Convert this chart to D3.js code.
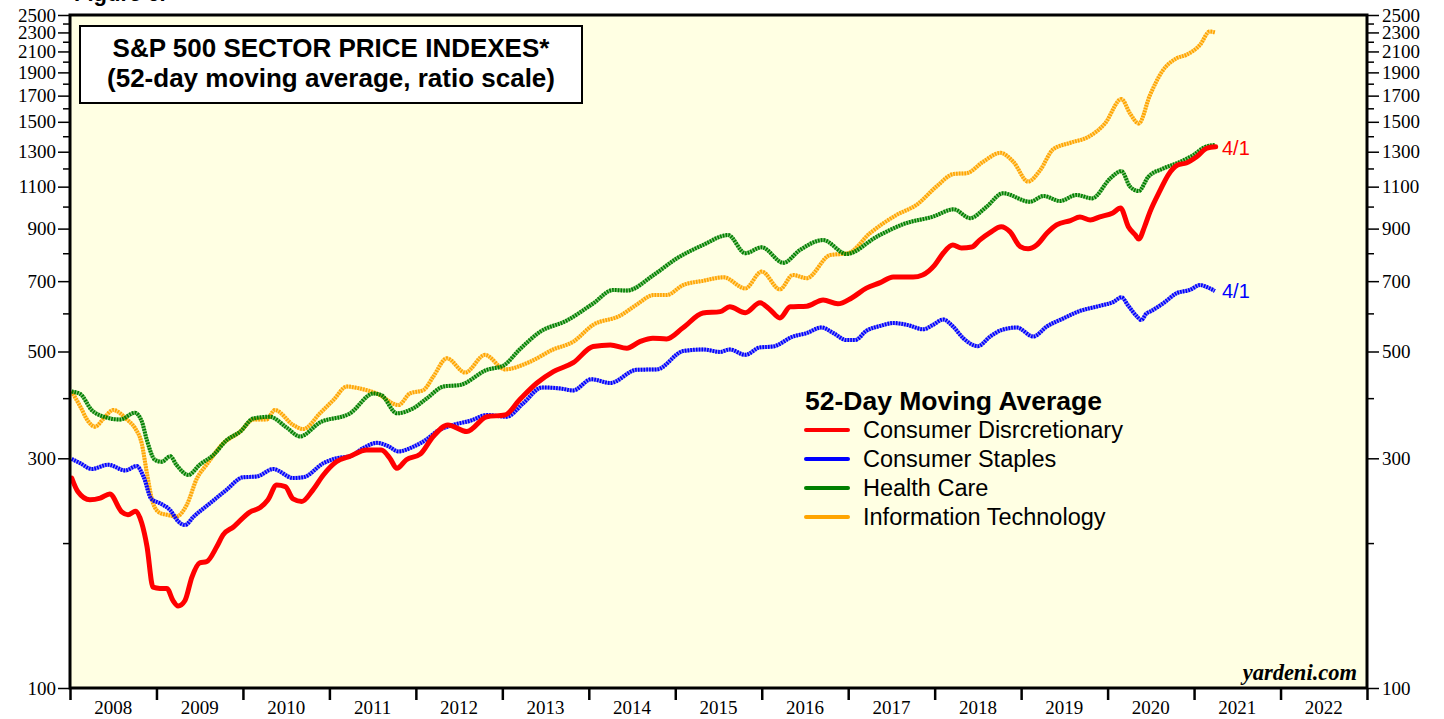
<!DOCTYPE html>
<html><head><meta charset="utf-8">
<script src="https://cdn.jsdelivr.net/npm/d3@7"></script>
<style>body{margin:0;background:#fff}svg{display:block}</style>
</head><body>
<svg id="chart" width="1444" height="719"></svg>
<script>
// ---- data ----
const cdYears = [2008.02,2008.09,2008.23,2008.35,2008.46,2008.60,2008.67,2008.76,2008.83,2008.89,2008.96,2009.04,2009.12,2009.19,2009.25,2009.33,2009.41,2009.50,2009.58,2009.70,2009.77,2009.89,2010.08,2010.20,2010.29,2010.39,2010.49,2010.58,2010.68,2010.81,2010.93,2011.08,2011.24,2011.43,2011.60,2011.70,2011.78,2011.89,2012.05,2012.20,2012.37,2012.59,2012.82,2013.03,2013.20,2013.40,2013.59,2013.82,2014.05,2014.25,2014.44,2014.59,2014.74,2014.90,2015.09,2015.32,2015.52,2015.63,2015.81,2015.98,2016.10,2016.21,2016.33,2016.52,2016.71,2016.88,2017.04,2017.21,2017.37,2017.52,2017.75,2017.86,2018.00,2018.10,2018.21,2018.31,2018.43,2018.52,2018.64,2018.77,2018.87,2018.99,2019.08,2019.18,2019.30,2019.41,2019.57,2019.68,2019.80,2019.91,2020.06,2020.15,2020.24,2020.32,2020.36,2020.43,2020.49,2020.61,2020.70,2020.81,2020.91,2021.03,2021.15,2021.25];
const cdValues = [273,256,246,248,253,232,229,233,220,197,162,161,161,152,148,152,170,182,183,197,208,216,232,237,246,264,262,247,244,258,277,295,303,312,312,300,286,298,306,333,352,341,366,369,397,430,454,474,512,516,508,524,533,531,560,601,605,619,602,631,610,587,619,621,640,628,646,677,695,714,714,721,756,801,832,820,824,852,883,908,887,826,817,832,881,916,935,951,938,952,970,993,908,873,856,911,975,1083,1163,1220,1232,1269,1323,1331];

const csYears = [2008.02,2008.12,2008.25,2008.44,2008.64,2008.77,2008.85,2008.94,2009.04,2009.16,2009.25,2009.33,2009.43,2009.62,2009.81,2010.00,2010.16,2010.35,2010.58,2010.70,2010.93,2011.08,2011.24,2011.39,2011.55,2011.68,2011.80,2011.97,2012.13,2012.24,2012.43,2012.63,2012.82,2013.05,2013.24,2013.46,2013.67,2013.82,2014.03,2014.25,2014.55,2014.79,2015.09,2015.32,2015.52,2015.63,2015.81,2015.98,2016.13,2016.36,2016.52,2016.69,2016.83,2016.98,2017.08,2017.21,2017.37,2017.52,2017.68,2017.87,2017.98,2018.10,2018.21,2018.33,2018.50,2018.64,2018.77,2018.95,2019.14,2019.30,2019.49,2019.68,2019.91,2020.07,2020.16,2020.24,2020.34,2020.39,2020.45,2020.49,2020.64,2020.80,2020.95,2021.07,2021.16,2021.24];
const csValues = [299,293,285,291,283,289,275,247,242,234,222,218,227,242,258,274,275,285,273,274,293,300,303,315,323,318,310,317,329,341,352,359,369,366,390,421,419,415,438,430,458,459,501,505,499,505,492,510,512,537,546,561,546,528,528,552,565,573,568,556,568,583,564,533,513,537,554,561,537,564,586,607,622,634,648,622,591,581,600,605,629,661,671,687,679,668];

const hcYears = [2008.02,2008.12,2008.25,2008.39,2008.58,2008.75,2008.83,2008.89,2008.98,2009.06,2009.16,2009.23,2009.37,2009.50,2009.66,2009.81,2009.97,2010.12,2010.31,2010.51,2010.66,2010.89,2011.24,2011.51,2011.60,2011.78,2011.97,2012.13,2012.32,2012.51,2012.82,2013.01,2013.20,2013.44,2013.74,2014.05,2014.28,2014.44,2014.75,2015.02,2015.32,2015.61,2015.81,2016.00,2016.25,2016.44,2016.71,2016.98,2017.33,2017.64,2017.98,2018.22,2018.41,2018.60,2018.79,2019.10,2019.26,2019.45,2019.64,2019.82,2020.03,2020.16,2020.26,2020.36,2020.47,2020.64,2020.84,2020.99,2021.13,2021.24];
const hcValues = [413,408,378,366,361,373,358,327,298,295,303,291,277,291,305,327,341,363,366,347,333,356,372,409,406,372,381,400,423,426,458,467,505,550,579,629,671,669,721,781,832,873,800,823,764,812,852,797,866,920,953,987,946,999,1066,1023,1052,1027,1057,1040,1144,1185,1100,1077,1153,1199,1239,1279,1331,1342];

const itYears = [2008.02,2008.12,2008.21,2008.29,2008.39,2008.50,2008.66,2008.75,2008.83,2008.89,2008.96,2009.04,2009.12,2009.23,2009.35,2009.47,2009.58,2009.77,2009.97,2010.12,2010.27,2010.37,2010.58,2010.70,2010.89,2011.05,2011.20,2011.35,2011.55,2011.80,2011.93,2012.09,2012.20,2012.36,2012.57,2012.80,2013.03,2013.32,2013.59,2013.82,2014.05,2014.36,2014.55,2014.75,2014.90,2015.09,2015.32,2015.56,2015.81,2016.00,2016.21,2016.36,2016.52,2016.79,2017.00,2017.25,2017.56,2017.79,2018.02,2018.22,2018.37,2018.56,2018.76,2018.91,2019.08,2019.22,2019.37,2019.57,2019.78,2019.97,2020.16,2020.26,2020.36,2020.49,2020.63,2020.80,2020.91,2021.07,2021.18,2021.24];
const itValues = [413,384,358,349,363,378,361,347,322,279,242,231,229,227,240,273,291,322,341,361,361,378,352,345,372,397,423,419,409,387,409,416,443,484,452,492,459,476,505,524,568,593,625,655,655,687,701,713,676,733,673,721,710,793,800,880,961,1008,1100,1169,1173,1239,1293,1239,1127,1190,1315,1357,1396,1488,1672,1560,1488,1704,1908,2034,2066,2168,2310,2300];

const seriesNames = ["Consumer Disrcretionary","Consumer Staples","Health Care","Information Technology"];
const seriesColors = ["#ff0000","#0000ff","#008000","#ffa500"];
const yLabelTicks = [100,300,500,700,900,1100,1300,1500,1700,1900,2100,2300,2500];
const yMinorTicks = [200,400,600,800,1000,1200,1400,1600,1800,2000,2200,2400];
const xYears = [2008,2009,2010,2011,2012,2013,2014,2015,2016,2017,2018,2019,2020,2021,2022];
const endLabel = "4/1";

// ---- layout ----
const L = 70, R = 1367, T = 15, B = 688;
const SERIF = "'Liberation Serif','Times New Roman',serif";
const SANS = "'Liberation Sans',Arial,sans-serif";
const svg = d3.select("#chart");
const x = d3.scaleLinear().domain([2008, 2023]).range([L, R]);
const y = d3.scaleLog().domain([100, 2500]).range([B, T]);

svg.append("rect").attr("x", L).attr("y", T).attr("width", R - L).attr("height", B - T).attr("fill", "#ffffe3");

const leftMajor = d3.axisLeft(y).tickValues(yLabelTicks).tickFormat(d3.format("d")).tickSize(12).tickPadding(2);
const leftMinor = d3.axisLeft(y).tickValues(yMinorTicks).tickFormat("").tickSize(7);
const rightMajor = d3.axisRight(y).tickValues(yLabelTicks).tickFormat(d3.format("d")).tickSize(12).tickPadding(3);
const rightMinor = d3.axisRight(y).tickValues(yMinorTicks).tickFormat("").tickSize(7);
function styleAxis(g){
  g.select(".domain").remove();
  g.selectAll(".tick line").attr("stroke","#000").attr("stroke-width",1.5);
  g.selectAll(".tick text").attr("font-family",SERIF).attr("font-size",19).attr("fill","#000");
}
svg.append("g").attr("transform",`translate(${L},0)`).call(leftMajor).call(styleAxis);
svg.append("g").attr("transform",`translate(${L},0)`).call(leftMinor).call(styleAxis);
svg.append("g").attr("transform",`translate(${R},0)`).call(rightMajor).call(styleAxis);
svg.append("g").attr("transform",`translate(${R},0)`).call(rightMinor).call(styleAxis);

const bottom = d3.axisBottom(x).tickValues(xYears.concat([2023])).tickFormat("").tickSize(12);
svg.append("g").attr("transform",`translate(0,${B})`).call(bottom).call(g=>{
  g.select(".domain").remove();
  g.selectAll(".tick line").attr("stroke","#000").attr("stroke-width",2.5);
});
svg.append("g").selectAll("text").data(xYears).join("text")
  .attr("x", d => x(d + 0.5)).attr("y", 714).attr("text-anchor","middle")
  .attr("font-family",SERIF).attr("font-size",19).text(d => d);

// lines
const line = d3.line().x(d => x(d[0])).y(d => y(d[1])).curve(d3.curveMonotoneX);
svg.append("clipPath").attr("id","plotclip").append("rect").attr("x",L).attr("y",T).attr("width",R-L).attr("height",B-T);
const series = [
  {years: cdYears, vals: cdValues},
  {years: csYears, vals: csValues},
  {years: hcYears, vals: hcValues},
  {years: itYears, vals: itValues}
];
const gl = svg.append("g").attr("clip-path","url(#plotclip)");
[3,2,1,0].forEach(i => {
  const s = series[i];
  const pts = s.years.map((yr, j) => [yr, s.vals[j]]);
  if (i === 0) {
    gl.append("path").attr("d", line(pts)).attr("fill","none").attr("stroke",seriesColors[i]).attr("stroke-width",5).attr("stroke-linejoin","round").attr("stroke-linecap","round");
  } else {
    gl.append("path").attr("d", line(pts)).attr("fill","none").attr("stroke",seriesColors[i]).attr("stroke-opacity",0.45).attr("stroke-width",4);
    gl.append("path").attr("d", line(pts)).attr("fill","none").attr("stroke",seriesColors[i]).attr("stroke-width",4).attr("stroke-dasharray","1.6 1.2");
  }
});

svg.append("rect").attr("x", L).attr("y", T).attr("width", R - L).attr("height", B - T).attr("fill", "none").attr("stroke","#000").attr("stroke-width",3);

// end labels
svg.append("text").attr("x", 1222).attr("y", 155).attr("fill", seriesColors[0]).attr("font-family",SANS).attr("font-size",20).text(endLabel);
svg.append("text").attr("x", 1222).attr("y", 298).attr("fill", seriesColors[1]).attr("font-family",SANS).attr("font-size",20).text(endLabel);

// title box
svg.append("rect").attr("x",80).attr("y",26).attr("width",502).attr("height",77).attr("fill","#fff").attr("stroke","#000").attr("stroke-width",2);
svg.append("text").attr("x",331).attr("y",57).attr("text-anchor","middle").attr("font-family",SANS).attr("font-weight","bold").attr("font-size",26).text("S&P 500 SECTOR PRICE INDEXES*");
svg.append("text").attr("x",331).attr("y",87).attr("text-anchor","middle").attr("font-family",SANS).attr("font-weight","bold").attr("font-size",26).text("(52-day moving average, ratio scale)");

// figure header (cut off at top, as in the source)
svg.append("text").attr("x",74).attr("y",1).attr("font-family",SANS).attr("font-weight","bold").attr("font-size",22).text("Figure 6.");

// legend
const lg = svg.append("g");
lg.append("text").attr("x",805).attr("y",410).attr("font-family",SANS).attr("font-weight","bold").attr("font-size",26.5).text("52-Day Moving Average");
seriesNames.forEach((n, i) => {
  const yy = 430 + i * 29;
  lg.append("line").attr("x1",806).attr("x2",848).attr("y1",yy).attr("y2",yy).attr("stroke",seriesColors[i]).attr("stroke-width",4).attr("stroke-linecap","round");
  lg.append("text").attr("x",863).attr("y",yy+8).attr("font-family",SANS).attr("font-size",23.5).text(n);
});

svg.append("text").attr("x",1357).attr("y",680).attr("text-anchor","end").attr("font-family",SERIF).attr("font-weight","bold").attr("font-style","italic").attr("font-size",22.5).text("yardeni.com");
</script>
</body></html>
